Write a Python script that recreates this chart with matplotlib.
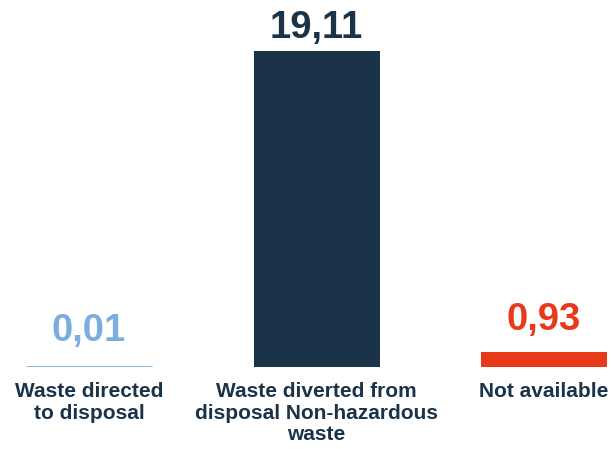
import matplotlib
matplotlib.use("Agg")
import matplotlib.pyplot as plt

# ===== data =====
categories = ["Waste directed\nto disposal",
              "Waste diverted from\ndisposal Non-hazardous\nwaste",
              "Not available"]
values = [0.01, 19.11, 0.93]
value_labels = ["0,01", "19,11", "0,93"]
colors = ["#7aaee0", "#1a3348", "#e83a1a"]
label_pad = [26, 13, 22]   # gap between bar top and value label (px)

navy = "#1a3348"
plt.rcParams["font.family"] = ["Liberation Sans", "DejaVu Sans"]

W, H = 611, 449
fig = plt.figure(figsize=(W / 100, H / 100), dpi=100)
# axes spans the full width; bars sit on y = 367 px from top
ax = fig.add_axes([0, 82 / H, 1, 316 / H])
step = 227.5
x = list(range(len(values)))
ax.bar(x, values, width=126 / step, color=colors, edgecolor=colors,
       linewidth=[2, 0, 0])
ax.set_xlim(-89 / step, (W - 89) / step)
ax.set_ylim(0, max(values))
ax.axis("off")

for xi, v, lab, c, pad in zip(x, values, value_labels, colors, label_pad):
    ax.annotate(lab, (xi, v), xytext=(0, pad * 0.72), textcoords="offset points",
                ha="center", va="baseline", fontsize=27.5, fontweight="bold",
                color=c, annotation_clip=False)

for xi, cat in zip(x, categories):
    ax.annotate(cat, (xi, 0), xytext=(0, -11), textcoords="offset points",
                ha="center", va="top", fontsize=15, fontweight="bold",
                color=navy, linespacing=1.15, annotation_clip=False)

fig.savefig("out.png", dpi=100)
